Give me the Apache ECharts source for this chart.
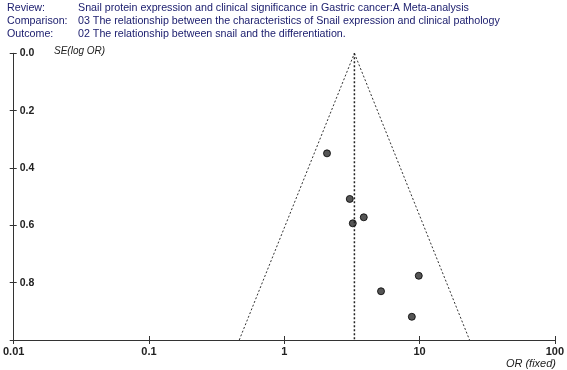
<!DOCTYPE html>
<html><head><meta charset="utf-8">
<script src="https://cdn.jsdelivr.net/npm/echarts@6/dist/echarts.min.js"></script>
<style>html,body{margin:0;padding:0;background:#fff}#c{width:567px;height:370px}</style>
</head><body><div id="c"></div>
<script>
// Header text
const headerLabels = ['Review:', 'Comparison:', 'Outcome:'];
const headerValues = [
  'Snail protein expression and clinical significance in Gastric cancer:A Meta-analysis',
  '03 The relationship between the characteristics of Snail expression and clinical pathology',
  '02 The relationship between snail and the differentiation.'
];
// Study data: odds ratio and SE(log OR)
const studyOR = [2.07, 3.05, 3.87, 3.21, 9.87, 5.19, 8.77];
const studySE = [0.349, 0.508, 0.572, 0.593, 0.776, 0.830, 0.919];
const pooledOR = 3.3;
const seMax = 1.0;
const xTicks = [0.01, 0.1, 1, 10, 100];
const yTicks = [0.0, 0.2, 0.4, 0.6, 0.8];

const chart = echarts.init(document.getElementById('c'));
const txtColor = '#1f2170';
const ff = '"Liberation Sans", Arial, sans-serif';
const graphics = [];
headerLabels.forEach((l, i) => {
  graphics.push({type:'text', left:7, top:3 + i*13, style:{text:l, fill:txtColor, font:'10.7px ' + ff}});
  graphics.push({type:'text', left:78, top:3 + i*13, style:{text:headerValues[i], fill:txtColor, font:'10.7px ' + ff}});
});
graphics.push({type:'text', left:54, top:46, style:{text:'SE(log OR)', fill:'#222', font:'italic 10px ' + ff}});
graphics.push({type:'text', right:11, top:358, style:{text:'OR (fixed)', fill:'#222', font:'italic 11px ' + ff}});

const z = 1.96;
const funnelL = [[pooledOR*Math.exp(-z*seMax), seMax],[pooledOR, 0]];
const funnelR = [[pooledOR, 0],[pooledOR*Math.exp(z*seMax), seMax]];
const dotStyle = {color:'#333', width:1, type:[2,2]};

const xFmt = v => { const m = xTicks.find(t => Math.abs(Math.log10(t) - Math.log10(v)) < 1e-6); return m === undefined ? '' : String(m); };
const yFmt = v => { const m = yTicks.find(t => Math.abs(t - v) < 1e-6); return m === undefined ? '' : m.toFixed(1); };
const xBase = {type:'log', logBase:10, min:0.01, max:100, position:'bottom', splitLine:{show:false}, minorTick:{show:false}};
const yBase = {type:'value', inverse:true, min:0, max:seMax, interval:0.2, position:'left', splitLine:{show:false}};

chart.setOption({
  animation:false,
  graphic: graphics,
  grid:{left:11.6, right:11, top:53.3, bottom:30, containLabel:false},
  xAxis:[
    Object.assign({}, xBase, {
      axisLine:{onZero:false, lineStyle:{color:'#333', width:1}},
      axisTick:{show:true, length:4, lineStyle:{color:'#333'}},
      axisLabel:{color:'#222', fontSize:11, fontWeight:'bold', fontFamily:ff, margin:6, formatter:xFmt}
    }),
    Object.assign({}, xBase, {
      axisLine:{show:false, onZero:false},
      axisTick:{show:true, inside:true, length:4, lineStyle:{color:'#333'}},
      axisLabel:{show:false}
    })
  ],
  yAxis:[
    Object.assign({}, yBase, {
      axisLine:{show:true, onZero:false, lineStyle:{color:'#333', width:1}},
      axisTick:{show:true, length:4, lineStyle:{color:'#333'}},
      axisLabel:{inside:true, margin:6, color:'#222', fontSize:10.5, fontWeight:'bold', fontFamily:ff, formatter:yFmt}
    }),
    Object.assign({}, yBase, {
      axisLine:{show:false, onZero:false},
      axisTick:{show:true, inside:true, length:3, lineStyle:{color:'#333'}},
      axisLabel:{show:false}
    })
  ],
  series:[
    {type:'line', data:funnelL, symbol:'none', lineStyle:dotStyle, silent:true},
    {type:'line', data:funnelR, symbol:'none', lineStyle:dotStyle, silent:true},
    {type:'line', data:[[pooledOR,0],[pooledOR,seMax]], symbol:'none', lineStyle:{color:'#222', width:1.5, type:[2,2]}, silent:true},
    {type:'scatter', data:studyOR.map((o,i)=>[o, studySE[i]]), symbol:'circle', symbolSize:7,
      itemStyle:{color:'#2a2a2a', borderColor:'#000', borderWidth:1}}
  ]
});
</script></body></html>
